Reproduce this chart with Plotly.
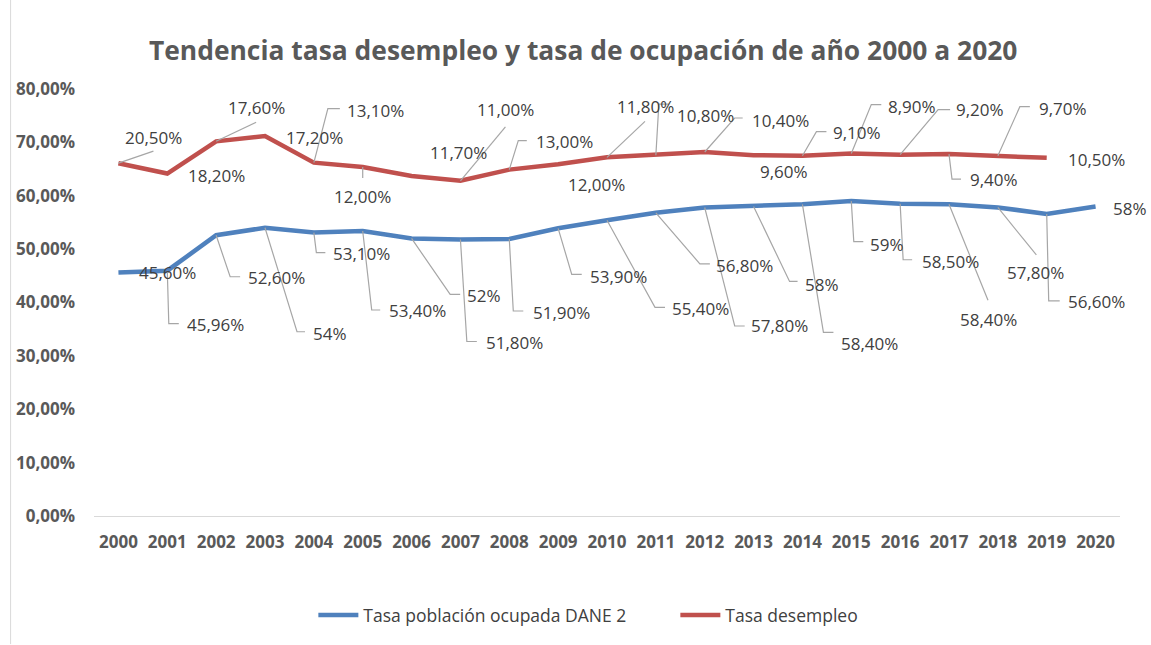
import plotly.graph_objects as go

# ---------------- data ----------------
years = list(range(2000, 2021))
ocupada = [45.60, 45.96, 52.60, 54.00, 53.10, 53.40, 52.00, 51.80, 51.90, 53.90,
           55.40, 56.80, 57.80, 58.00, 58.40, 59.00, 58.50, 58.40, 57.80, 56.60, 58.00]
desempleo = [20.50, 18.20, 17.60, 17.20, 13.10, 12.00, 11.70, 11.00, 13.00, 12.00,
             11.80, 10.80, 10.40, 9.60, 9.10, 8.90, 9.20, 9.40, 9.70, 10.50]
y_ticks = [0, 10, 20, 30, 40, 50, 60, 70, 80]

name_ocu = "Tasa población ocupada DANE 2"
name_des = "Tasa desempleo"
title = "Tendencia tasa desempleo y tasa de ocupación de año 2000 a 2020"

BLUE = "#4F81BD"
RED = "#C0504D"
LEAD = "#A6A6A6"
TXT = "#404040"
AX = "#595959"


def fmt_blue(v):
    if abs(v - round(v)) < 1e-9:
        return f"{int(round(v))}%"
    return f"{v:.2f}%".replace(".", ",")


def fmt_red(v):
    return f"{v:.2f}%".replace(".", ",")


# stacked line (Excel "stacked line" chart): red plotted on top of blue
stack_red = [o + d for o, d in zip(ocupada, desempleo)]

# ---------------- callout layout (pixel offsets from the point; dy down-positive) ----
# (dx, dy, leader) leader: None | ("S", ex, ey) | ("L", kx, ky, ex, ey)
red_callouts = [
    (35, -26, ("S", 35, -12)),
    (49, 1.5, None),
    (40, -34, ("S", 40, -19)),
    (49, 2, None),
    (62, -52, ("L", 14, -54, 26, -54)),
    (0, 30, ("S", 0, 11)),
    (47, -24, None),
    (45, -71, ("S", 45, -54)),
    (55, -28, ("L", 9, -29, 17.5, -29)),
    (38, 20, None),
    (38, -51, ("S", 38, -36)),
    (50, -40, ("L", 3, -51, 13, -51)),
    (76, -31, ("L", 30, -34, 38, -34)),
    (30, 16, None),
    (55, -23, ("L", 14, -24, 24, -24)),
    (61, -47, ("L", 20, -49, 30, -49)),
    (80, -45, ("L", 38, -45, 50, -45)),
    (45, 25, ("L", 3, 25, 12, 25)),
    (65, -47, ("L", 22, -49, 32, -49)),
    (50, 2, None),
]
blue_callouts = [
    (49, 0, None),
    (48, 54, ("L", 1.5, 53, 11.5, 53)),
    (60, 42, ("L", 14, 41.5, 24, 41.5)),
    (65, 106, ("L", 32, 104, 40, 104)),
    (48, 21, ("L", 2.5, 20, 11.5, 20)),
    (55, 80, ("L", 9, 79, 17.5, 79)),
    (72, 57, ("L", 38.6, 56, 48.6, 56)),
    (54, 103, ("L", 6.4, 102, 16.4, 102)),
    (52, 74, ("L", 4, 72, 14, 72)),
    (60, 48, ("L", 13.6, 46, 23.6, 46)),
    (93, 88, ("L", 48, 87, 58, 87)),
    (89, 53, ("L", 44, 51, 54, 51)),
    (75, 118, ("L", 30, 118.5, 40, 118.5)),
    (68, 78, ("L", 36, 75, 44, 75)),
    (67, 139, ("L", 21, 128, 31, 128)),
    (36, 43, ("L", 2.5, 40.6, 12, 40.6)),
    (50, 58, ("L", 3, 56, 12, 56)),
    (39, 115, ("S", 39, 96)),
    (38, 65, ("S", 38.5, 47.5)),
    (50, 88, ("L", 2, 87, 13, 87)),
    (34, 2, None),
]

fig = go.Figure()
fig.add_trace(go.Scatter(
    x=years, y=[v / 100 for v in ocupada], mode="lines", name=name_ocu,
    line=dict(color=BLUE, width=4.5), hoverinfo="skip"))
fig.add_trace(go.Scatter(
    x=years[:len(desempleo)], y=[v / 100 for v in stack_red], mode="lines", name=name_des,
    line=dict(color=RED, width=4.5), hoverinfo="skip"))

annotations = []
shapes = []


def add_callouts(xs, ys, texts, specs):
    for x, y, t, (dx, dy, lead) in zip(xs, ys, texts, specs):
        annotations.append(dict(
            x=x, y=y, xref="x", yref="y", text=t, showarrow=False,
            xshift=dx, yshift=-dy, font=dict(family="Open Sans", size=17, color=TXT)))
        if lead is None:
            continue
        if lead[0] == "S":
            path = f"M0,0 L{lead[1]},{-lead[2]}"
        else:
            path = f"M0,0 L{lead[1]},{-lead[2]} L{lead[3]},{-lead[4]}"
        shapes.append(dict(
            type="path", xref="x", yref="y", xsizemode="pixel", ysizemode="pixel",
            xanchor=x, yanchor=y, path=path, line=dict(color=LEAD, width=1.2),
            layer="above"))


add_callouts(years[:len(desempleo)], [v / 100 for v in stack_red],
             [fmt_red(v) for v in desempleo], red_callouts)
add_callouts(years, [v / 100 for v in ocupada],
             [fmt_blue(v) for v in ocupada], blue_callouts)

# chart-area left border
shapes.append(dict(type="line", xref="paper", yref="paper",
                   x0=-0.0813, x1=-0.0813, y0=-0.30, y1=1.21,
                   line=dict(color="#D9D9D9", width=1)))

fig.update_layout(
    width=1151, height=645,
    margin=dict(l=93.5, r=30.5, t=89, b=129),
    paper_bgcolor="white", plot_bgcolor="white",
    separators=",.",
    title=dict(text=title, x=0.5067, xanchor="center", y=0.922, yanchor="middle",
               font=dict(family="Open Sans", size=26.4, color=AX, weight="bold")),
    showlegend=True,
    legend=dict(orientation="h", x=0.2138, xanchor="left", y=-0.232, yanchor="middle",
                font=dict(family="Open Sans", size=17.5, color=TXT),
                itemwidth=40, entrywidth=307, tracegroupgap=0),
    annotations=annotations, shapes=shapes,
)
fig.update_xaxes(
    range=[1999.5, 2020.5], tickmode="array", tickvals=years,
    ticktext=[str(y) for y in years], showgrid=False, zeroline=False,
    showline=True, linecolor="#D9D9D9", linewidth=1.3, ticks="", automargin=False,
    tickfont=dict(family="Open Sans", size=17, color=AX, weight="bold"),
    ticklabelstandoff=10)
fig.update_yaxes(
    range=[0, 0.8], tickmode="array", tickvals=[v / 100 for v in y_ticks],
    tickformat=".2%", showgrid=False, zeroline=False, showline=False, ticks="",
    automargin=False,
    tickfont=dict(family="Open Sans", size=17, color=AX, weight="bold"),
    ticklabelstandoff=18)

fig.write_html("out.html", config={"displayModeBar": False},
               post_script="document.body.style.margin='0';document.body.style.overflow='hidden';")
